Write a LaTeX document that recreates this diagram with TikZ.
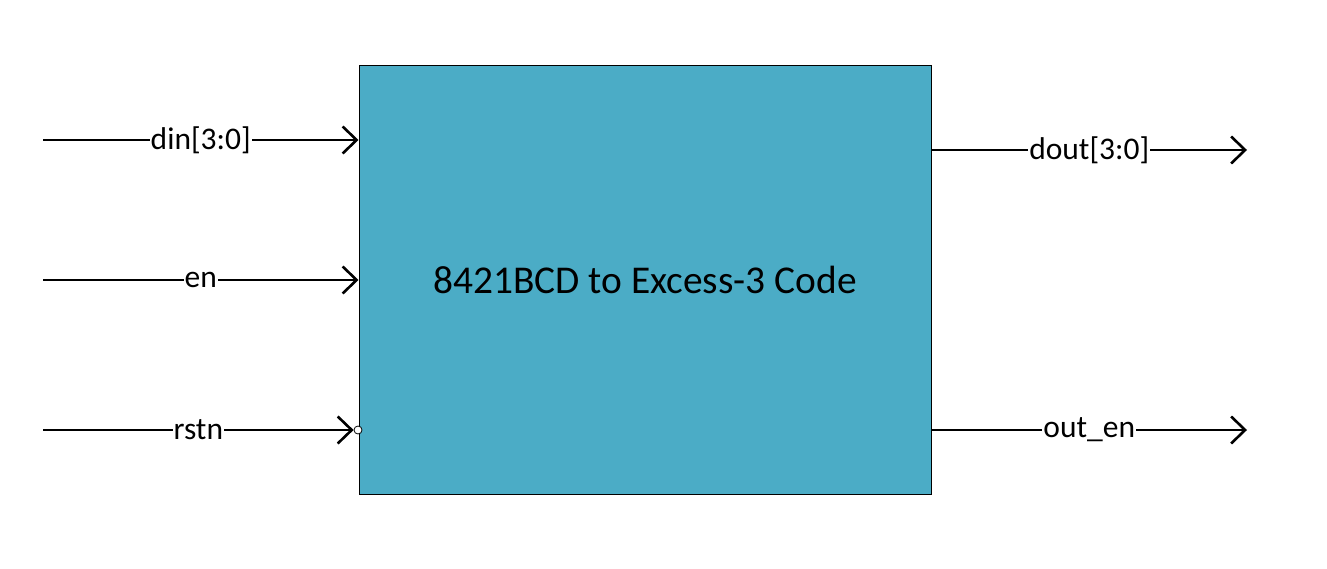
\documentclass[tikz,border=0pt]{standalone}
\usepackage{fontspec}
\setmainfont{Carlito}
\usetikzlibrary{arrows.meta}
\definecolor{boxfill}{HTML}{4BACC6}
\tikzset{
  sig/.style={line width=2.6pt, -{Straight Barb[length=14pt,width=27pt,line width=2.6pt]}},
  sigc/.style={line width=2.6pt, -{Straight Barb[length=14pt,width=27pt,line width=2.6pt]}, shorten >=0pt},
  lbl/.style={fill=white, inner sep=1pt, font=\fontsize{31.5}{36}\selectfont},
  block/.style={draw=black, line width=1pt, fill=boxfill, minimum width=572pt, minimum height=428pt, inner sep=0pt, font=\fontsize{39.4}{46}\selectfont},
  bubble/.style={circle, draw=black, fill=white, line width=0.8pt, minimum size=8pt, inner sep=0pt}
}
\begin{document}
\begin{tikzpicture}[x=1pt,y=-1pt]
\useasboundingbox (0,0) rectangle (1327,569);
\node[block] (box) at (645,280) {8421BCD to Excess-3 Code};
\coordinate (i1) at (43,140);
\coordinate (i2) at (43,280);
\coordinate (i3) at (43,430);
\coordinate (o1) at (1247,150);
\coordinate (o2) at (1247,430);
\node[bubble] (inv) at (358,430) {};
\draw[sig] (i1) -- node[lbl] {din[3:0]} (i1 -| box.west);
\draw[sig] (i2) -- node[lbl] {en} (i2 -| box.west);
\draw[sig] (i3) -- node[lbl] {rstn} (inv.west);
\draw[sig] (o1 -| box.east) -- node[lbl] {dout[3:0]} (o1);
\draw[sig] (o2 -| box.east) -- node[lbl] {out\_en} (o2);
\end{tikzpicture}
\end{document}
